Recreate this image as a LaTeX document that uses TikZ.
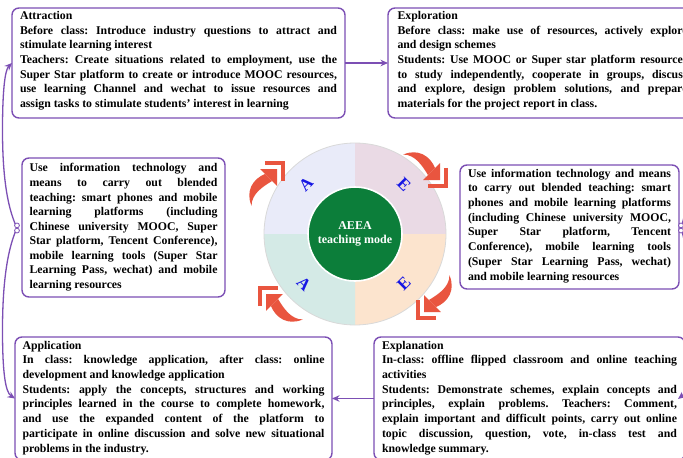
\documentclass[tikz,border=0pt]{standalone}
\usepackage{fontspec}
\setmainfont{Liberation Serif}
\usetikzlibrary{arrows.meta}
\setlength\parindent{0pt}
\frenchspacing

\definecolor{frame}{RGB}{124,79,180}
\definecolor{cycred}{RGB}{233,85,63}
\definecolor{letterblue}{RGB}{22,22,228}
\definecolor{coregreen}{RGB}{12,126,58}
\definecolor{qA}{RGB}{233,235,249}
\definecolor{qB}{RGB}{234,218,229}
\definecolor{qC}{RGB}{252,228,206}
\definecolor{qD}{RGB}{212,234,230}

% one justified line / one ragged (last) line of a text block
\newcommand\jline[1]{\hbox to\hsize{\strut#1}}
\newcommand\rline[1]{\hbox to\hsize{\strut#1\hfil}}
% a block of lines of fixed width and height, set from the top
\newcommand\boxlines[3]{\vbox to #2{\hsize=#1\relax #3\vfil}}

\tikzset{
  box/.style={draw=frame, line width=1.4pt, rounded corners=7pt, fill=white,
    anchor=north west, outer sep=0pt, text=black,
    font=\fontsize{11.8pt}{14.73pt}\selectfont\bfseries},
  conn/.style={draw=frame, line width=1.3pt, -{Stealth[length=7.5pt,width=6.5pt]}},
  marker/.style={circle, minimum size=10pt, inner sep=0pt, draw=none},
  letter/.style={text=letterblue, font=\fontsize{17pt}{17pt}\selectfont\bfseries, inner sep=0pt},
  cyc/.pic={
    \fill[cycred] (0,0) -- (-12,-12) -- (-12,12) -- cycle;
    \fill[cycred] (-12,-5) .. controls (-24,-10) and (-38,-7) .. (-44,8)
      .. controls (-36,0) and (-24,2) .. (-12,5) -- cycle;
    \draw[cycred, line width=4pt, miter limit=10] (-4,-13) -- (9,0) -- (-4,13);
  }
}

\begin{document}
\begin{tikzpicture}[x=1pt, y=-1pt]
\fill[white] (0,0) rectangle (683,458);
\useasboundingbox (0,0) rectangle (683,458);

% ---- the four stage boxes ----
\node[box, inner xsep=8pt, inner ysep=1pt] (attr) at (12,8) {\boxlines{317pt}{108pt}{%
\rline{Attraction}
\jline{Before class: Introduce industry questions to attract and}
\rline{stimulate learning interest}
\jline{Teachers: Create situations related to employment, use the}
\jline{Super Star platform to create or introduce MOOC resources,}
\jline{use learning Channel and wechat to issue resources and}
\rline{assign tasks to stimulate students' interest in learning}}};

\node[box, inner xsep=9.5pt, inner ysep=1pt] (expl) at (388,8) {\boxlines{290pt}{108pt}{%
\rline{Exploration}
\jline{Before class: make use of resources, actively explore}
\rline{and design schemes}
\jline{Students: Use MOOC or Super star platform resources}
\jline{to study independently, cooperate in groups, discuss}
\jline{and explore, design problem solutions, and prepare}
\rline{materials for the project report in class.}}};

\node[box, inner xsep=7.5pt, inner ysep=1.7pt] (app) at (15,337) {\boxlines{302pt}{119.6pt}{%
\rline{Application}
\jline{In class: knowledge application, after class: online}
\rline{development and knowledge application}
\jline{Students: apply the concepts, structures and working}
\jline{principles learned in the course to complete homework,}
\jline{and use the expanded content of the platform to}
\jline{participate in online discussion and solve new situational}
\rline{problems in the industry.}}};

\node[box, inner xsep=8pt, inner ysep=1.7pt] (explan) at (374,337) {\boxlines{295pt}{119.6pt}{%
\rline{Explanation}
\jline{In-class: offline flipped classroom and online teaching}
\rline{activities}
\jline{Students: Demonstrate schemes, explain concepts and}
\jline{principles, explain problems. Teachers: Comment,}
\jline{explain important and difficult points, carry out online}
\jline{topic discussion, question, vote, in-class test and}
\rline{knowledge summary.}}};

% ---- the two technology boxes ----
\node[box, inner xsep=7.5pt, inner ysep=3.8pt,
      font=\fontsize{11.8pt}{14.53pt}\selectfont\bfseries] (techL) at (22,158) {\boxlines{188pt}{131.4pt}{%
\jline{Use information technology and}
\jline{means to carry out blended}
\jline{teaching: smart phones and mobile}
\jline{learning platforms (including}
\jline{Chinese university MOOC, Super}
\jline{Star platform, Tencent Conference),}
\jline{mobile learning tools (Super Star}
\jline{Learning Pass, wechat) and mobile}
\rline{learning resources}}};

\node[box, inner xsep=8pt, inner ysep=1.7pt] (techR) at (460,165) {\boxlines{203pt}{120.6pt}{%
\jline{Use information technology and means}
\jline{to carry out blended teaching: smart}
\jline{phones and mobile learning platforms}
\jline{(including Chinese university MOOC,}
\jline{Super Star platform, Tencent}
\jline{Conference), mobile learning tools}
\jline{(Super Star Learning Pass, wechat)}
\rline{and mobile learning resources}}};

% ---- connectors ----
\draw[conn] (attr.east) -- (expl.west);
\draw[conn] (explan.west) -- (app.east);

\node[marker] (lm) at (17,228) {};
\node[marker] (rm) at (681,228) {};
\coordinate (rin) at (678,399);

\draw[conn] (lm.center) .. controls (6,205) and (2.5,170) .. (2.5,130)
  .. controls (2.5,90) and (5,70) .. (attr.west);
\draw[conn] (lm.center) .. controls (6,252) and (2.5,290) .. (2.5,330)
  .. controls (2.5,370) and (5,392) .. (app.west);
\draw[conn] (rm.center) .. controls (690,200) and (700,120) .. (expl.east);
\draw[conn] (rm.center) .. controls (692,260) and (696,385) .. (rin);

\foreach \m in {lm, rm}{
  \draw[frame, line width=0.8pt, fill=white]
    (\m.center) ++(0,-2.6) circle[radius=2.4]
    (\m.center) ++(0,2.6) circle[radius=2.4];
}

% ---- AEEA cycle ----
\coordinate (c) at (355,234);
\fill[qA] (c) -- ++(180:91) arc[start angle=180, end angle=270, radius=91] -- cycle;
\fill[qB] (c) -- ++(270:91) arc[start angle=270, end angle=360, radius=91] -- cycle;
\fill[qC] (c) -- ++(0:91) arc[start angle=0, end angle=90, radius=91] -- cycle;
\fill[qD] (c) -- ++(90:91) arc[start angle=90, end angle=180, radius=91] -- cycle;
\draw[black!15, line width=0.8pt] (c) circle[radius=91];

\node[circle, fill=coregreen, draw=white, line width=1.6pt, minimum size=94pt,
      inner sep=0pt, text=white, align=center,
      font=\fontsize{12pt}{14pt}\selectfont\bfseries] (core) at (c) {AEEA\\teaching mode};

\node[letter, rotate=45]  (sA1) at (306,184) {A};
\node[letter, rotate=-45] (sE1) at (404,185) {E};
\node[letter, rotate=45]  (sE2) at (404,284) {E};
\node[letter, rotate=-45] (sA2) at (304,284) {A};

\path (440,180) pic[rotate=-45] {cyc};
\path (424,312) pic[rotate=-135] {cyc};
\path (266,294) pic[rotate=135] {cyc};
\path (277,169) pic[rotate=45] {cyc};
\end{tikzpicture}
\end{document}
